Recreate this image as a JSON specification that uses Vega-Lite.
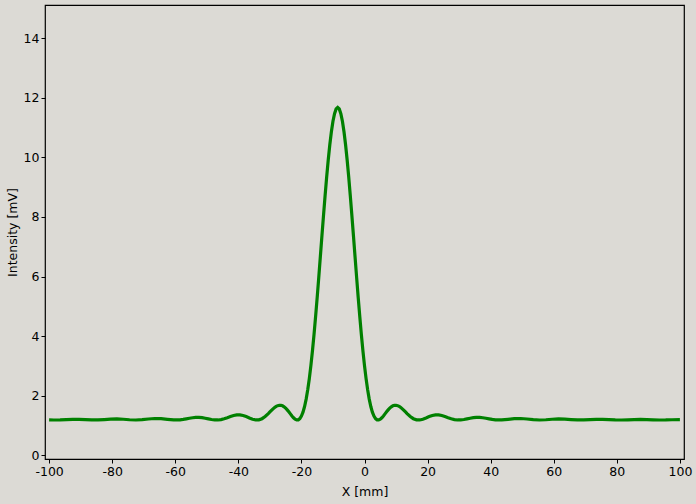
{
"$schema": "https://vega.github.io/schema/vega-lite/v6.json",
"width": 639, "height": 454,
"autosize": {"type": "none"},
"padding": {"left": 45, "top": 5, "right": 12, "bottom": 45},
"background": "#dcdad5",
"config": {
 "view": {"stroke": "#000000", "strokeWidth": 1.2, "fill": "#dcdad5"},
 "font": "DejaVu Sans",
 "axis": {"domain": false, "grid": false, "tickColor": "#000000", "tickSize": 4, "labelColor": "#000000", "labelFontSize": 12.5, "titleFontSize": 12.5, "titleColor": "#000000", "titleFontWeight": "normal", "labelFont": "DejaVu Sans", "titleFont": "DejaVu Sans", "labelExpr": "replace(datum.label, '\u2212', '-')"}
},
"data": {"values": [
{"x":-100,"y":1.184},{"x":-98.5,"y":1.18},{"x":-96.5,"y":1.183},{"x":-94.5,"y":1.194},{"x":-92.5,"y":1.204},{"x":-90.5,"y":1.204},{"x":-88.5,"y":1.194},{"x":-86.5,"y":1.182},{"x":-84.5,"y":1.181},{"x":-82.5,"y":1.193},{"x":-80.5,"y":1.209},{"x":-78.5,"y":1.215},{"x":-76.5,"y":1.206},{"x":-74.5,"y":1.189},{"x":-72.5,"y":1.18},{"x":-70.5,"y":1.19},{"x":-68.5,"y":1.213},{"x":-66.5,"y":1.231},{"x":-64.5,"y":1.227},{"x":-62.5,"y":1.204},{"x":-60.5,"y":1.182},{"x":-58.5,"y":1.186},{"x":-57.5,"y":1.199},{"x":-56.5,"y":1.218},{"x":-55.5,"y":1.238},{"x":-54.5,"y":1.255},{"x":-53.5,"y":1.266},{"x":-52.5,"y":1.267},{"x":-51.5,"y":1.257},{"x":-50.5,"y":1.239},{"x":-49.5,"y":1.217},{"x":-48.5,"y":1.196},{"x":-47.5,"y":1.182},{"x":-46.5,"y":1.181},{"x":-45.5,"y":1.194},{"x":-44.5,"y":1.222},{"x":-43.5,"y":1.258},{"x":-42.5,"y":1.297},{"x":-41.5,"y":1.331},{"x":-40.5,"y":1.35},{"x":-39.5,"y":1.351},{"x":-38.5,"y":1.331},{"x":-37.5,"y":1.294},{"x":-36.5,"y":1.249},{"x":-35.5,"y":1.207},{"x":-34.5,"y":1.182},{"x":-33.5,"y":1.186},{"x":-32.5,"y":1.224},{"x":-31.5,"y":1.297},{"x":-30.5,"y":1.395},{"x":-30,"y":1.449},{"x":-29.5,"y":1.503},{"x":-29,"y":1.554},{"x":-28.5,"y":1.599},{"x":-28,"y":1.636},{"x":-27.5,"y":1.662},{"x":-27,"y":1.674},{"x":-26.5,"y":1.673},{"x":-26,"y":1.656},{"x":-25.5,"y":1.624},{"x":-25,"y":1.578},{"x":-24.5,"y":1.52},{"x":-24,"y":1.455},{"x":-23.5,"y":1.385},{"x":-23,"y":1.316},{"x":-22.5,"y":1.255},{"x":-22,"y":1.208},{"x":-21.5,"y":1.182},{"x":-21,"y":1.186},{"x":-20.5,"y":1.226},{"x":-20,"y":1.31},{"x":-19.5,"y":1.443},{"x":-19,"y":1.632},{"x":-18.5,"y":1.881},{"x":-18,"y":2.193},{"x":-17.5,"y":2.568},{"x":-17,"y":3.006},{"x":-16.5,"y":3.505},{"x":-16,"y":4.058},{"x":-15.5,"y":4.661},{"x":-15,"y":5.303},{"x":-14.5,"y":5.975},{"x":-14,"y":6.666},{"x":-13.5,"y":7.361},{"x":-13,"y":8.047},{"x":-12.5,"y":8.711},{"x":-12,"y":9.338},{"x":-11.5,"y":9.914},{"x":-11,"y":10.427},{"x":-10.5,"y":10.863},{"x":-10,"y":11.214},{"x":-9.5,"y":11.471},{"x":-9,"y":11.627},{"x":-8.5,"y":11.68},
{"x":-8,"y":11.627},{"x":-7.5,"y":11.471},{"x":-7,"y":11.214},{"x":-6.5,"y":10.863},{"x":-6,"y":10.427},{"x":-5.5,"y":9.914},{"x":-5,"y":9.338},{"x":-4.5,"y":8.711},{"x":-4,"y":8.047},{"x":-3.5,"y":7.361},{"x":-3,"y":6.666},{"x":-2.5,"y":5.975},{"x":-2,"y":5.303},{"x":-1.5,"y":4.661},{"x":-1,"y":4.058},{"x":-0.5,"y":3.505},{"x":0,"y":3.006},{"x":0.5,"y":2.568},{"x":1,"y":2.193},{"x":1.5,"y":1.881},{"x":2,"y":1.632},{"x":2.5,"y":1.443},{"x":3,"y":1.31},{"x":3.5,"y":1.226},{"x":4,"y":1.186},{"x":4.5,"y":1.182},{"x":5,"y":1.208},{"x":5.5,"y":1.255},{"x":6,"y":1.316},{"x":6.5,"y":1.385},{"x":7,"y":1.455},{"x":7.5,"y":1.52},{"x":8,"y":1.578},{"x":8.5,"y":1.624},{"x":9,"y":1.656},{"x":9.5,"y":1.673},{"x":10,"y":1.674},{"x":10.5,"y":1.662},{"x":11,"y":1.636},{"x":11.5,"y":1.599},{"x":12,"y":1.554},{"x":12.5,"y":1.503},{"x":13,"y":1.449},{"x":13.5,"y":1.395},{"x":14.5,"y":1.297},{"x":15.5,"y":1.224},{"x":16.5,"y":1.186},{"x":17.5,"y":1.182},{"x":18.5,"y":1.207},{"x":19.5,"y":1.249},{"x":20.5,"y":1.294},{"x":21.5,"y":1.331},{"x":22.5,"y":1.351},{"x":23.5,"y":1.35},{"x":24.5,"y":1.331},{"x":25.5,"y":1.297},{"x":26.5,"y":1.258},{"x":27.5,"y":1.222},{"x":28.5,"y":1.194},{"x":29.5,"y":1.181},{"x":30.5,"y":1.182},{"x":31.5,"y":1.196},{"x":32.5,"y":1.217},{"x":33.5,"y":1.239},{"x":34.5,"y":1.257},{"x":35.5,"y":1.267},{"x":36.5,"y":1.266},{"x":37.5,"y":1.255},{"x":38.5,"y":1.238},{"x":39.5,"y":1.218},{"x":40.5,"y":1.199},{"x":41.5,"y":1.186},{"x":43.5,"y":1.182},{"x":45.5,"y":1.204},{"x":47.5,"y":1.227},{"x":49.5,"y":1.231},{"x":51.5,"y":1.213},{"x":53.5,"y":1.19},{"x":55.5,"y":1.18},{"x":57.5,"y":1.189},{"x":59.5,"y":1.206},{"x":61.5,"y":1.215},{"x":63.5,"y":1.209},{"x":65.5,"y":1.193},{"x":67.5,"y":1.181},{"x":69.5,"y":1.182},{"x":71.5,"y":1.194},{"x":73.5,"y":1.204},{"x":75.5,"y":1.204},{"x":77.5,"y":1.194},{"x":79.5,"y":1.183},{"x":81.5,"y":1.18},{"x":83.5,"y":1.186},{"x":85.5,"y":1.195},{"x":87.5,"y":1.199},{"x":89.5,"y":1.194},{"x":91.5,"y":1.185},{"x":93.5,"y":1.18},{"x":95.5,"y":1.182},{"x":97.5,"y":1.189},{"x":100,"y":1.195}
]},
"mark": {"type": "line", "color": "#008000", "strokeWidth": 3.2},
"encoding": {
 "x": {"field": "x", "type": "quantitative", "scale": {"domain": [-101.3, 101.3], "nice": false, "zero": false},
  "axis": {"values": [-100, -80, -60, -40, -20, 0, 20, 40, 60, 80, 100], "title": "X [mm]", "labelPadding": 2, "titlePadding": 8}},
 "y": {"field": "y", "type": "quantitative", "scale": {"domain": [-0.13, 15.12], "nice": false, "zero": false},
  "axis": {"values": [0, 2, 4, 6, 8, 10, 12, 14], "title": "Intensity [mV]", "labelPadding": 2, "titlePadding": 4}}
}
}
